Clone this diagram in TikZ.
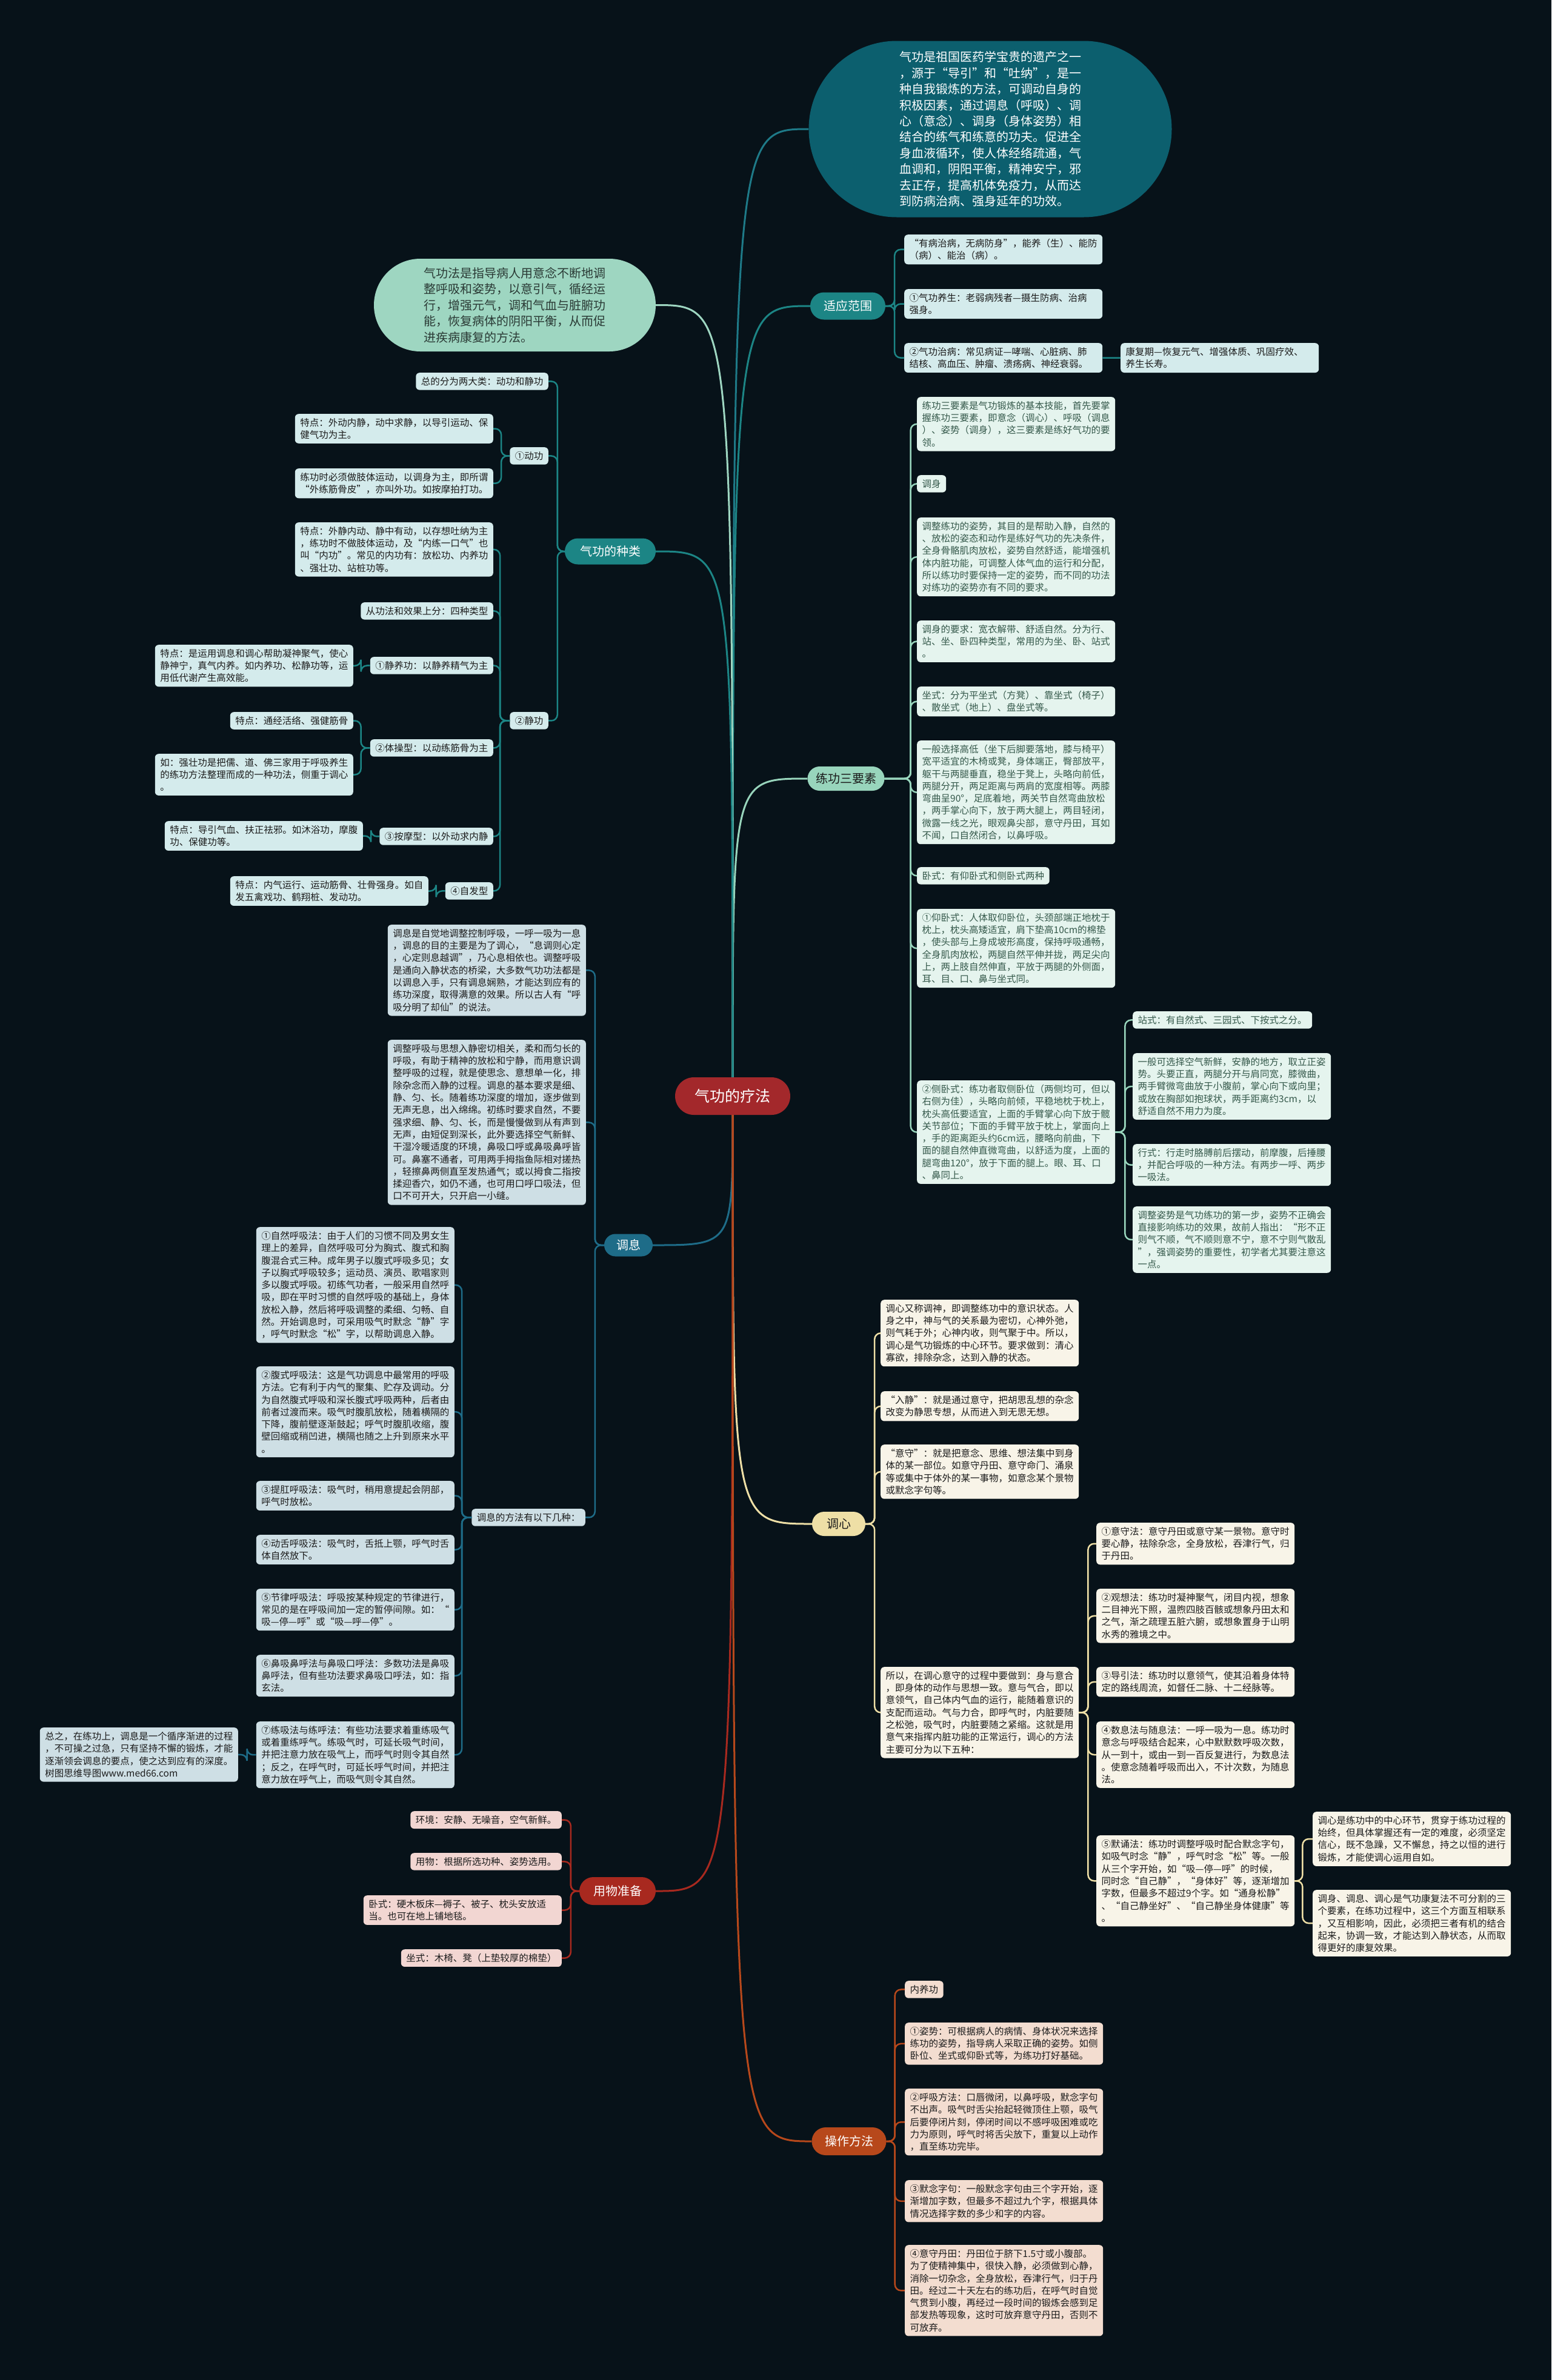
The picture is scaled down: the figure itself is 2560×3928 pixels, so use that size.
\documentclass[tikz,border=0pt]{standalone}
\usepackage{fontspec}
\newfontfamily\cjk{Noto Sans CJK SC}
\usetikzlibrary{shapes.misc}
\definecolor{bg}{HTML}{071219}
\definecolor{ctrc}{HTML}{A3282B}
\definecolor{ellTR}{HTML}{0C5F6E}
\definecolor{lnTR}{HTML}{1E7A88}
\definecolor{ellTL}{HTML}{9ED6C1}
\definecolor{cTeal}{HTML}{1C8585}
\definecolor{cyanfill}{HTML}{D4EBEC}
\definecolor{cMint}{HTML}{98D5BC}
\definecolor{mintfill}{HTML}{E5F4EE}
\definecolor{minttext}{HTML}{34584A}
\definecolor{cBlue}{HTML}{1E6C88}
\definecolor{bluefill}{HTML}{CEDFE5}
\definecolor{cGold}{HTML}{EEDFA6}
\definecolor{creamfill}{HTML}{F8F4E8}
\definecolor{cRed}{HTML}{A8291F}
\definecolor{pinkfill}{HTML}{F2D6D2}
\definecolor{cOrange}{HTML}{B7481B}
\definecolor{peachfill}{HTML}{F3DDD0}
\definecolor{dtext}{HTML}{1B1B1B}
\definecolor{elltltext}{HTML}{2A3A35}
\tikzset{
  bx/.style={font=\cjk\fontsize{15.5}{20.3}\selectfont, inner xsep=8.5pt, inner ysep=7pt, rounded corners=6pt, align=left},
  bxw/.style={bx, text width=310pt},
  cy/.style={fill=cyanfill, text=dtext},
  mt/.style={fill=mintfill, text=minttext},
  bl/.style={fill=bluefill, text=dtext},
  cr/.style={fill=creamfill, text=dtext},
  pk/.style={fill=pinkfill, text=dtext},
  pc/.style={fill=peachfill, text=dtext},
  branch/.style={rounded rectangle, inner sep=0pt, font=\cjk\fontsize{20}{24}\selectfont},
  elltext/.style={inner sep=0pt, align=left, font=\cjk\fontsize{20}{26.4}\selectfont},
  mainln/.style={draw=#1, line width=3pt},
  subln/.style={draw=#1, line width=2.5pt, rounded corners=10pt},
}
\newcommand\rconn[4]{\draw[subln=#1] (#2.east) -- ([xshift=#4pt]#2.east) |- (#3.west);}
\newcommand\lconn[4]{\draw[subln=#1] (#2.west) -- ([xshift=-#4pt]#2.west) |- (#3.east);}
\newcommand\mainup[2]{\draw[mainln=#1] (ctr.north) .. controls (ctr.north |- #2) .. (#2);}
\newcommand\maindown[2]{\draw[mainln=#1] (ctr.south) .. controls (ctr.south |- #2) .. (#2);}
\begin{document}
\begin{tikzpicture}[x=1pt,y=-1pt]
\fill[bg] (0,0) rectangle (2560,3928);
\useasboundingbox (0,0) rectangle (2560,3928);

% ---------- centre ----------
\node[branch, fill=ctrc, text=white, minimum width=190pt, minimum height=62pt, font=\cjk\fontsize{25}{30}\selectfont] (ctr) at (1209,1809) {气功的疗法};

% ---------- top right ellipse ----------
\node[rounded rectangle, fill=ellTR, minimum width=599pt, minimum height=291pt, inner sep=0pt] (eTR) at (1634,213) {};
\node[elltext, text=white] (eTRt) at (eTR.center) {气功是祖国医药学宝贵的遗产之一\\，源于“导引”和“吐纳”，是一\\种自我锻炼的方法，可调动自身的\\积极因素，通过调息（呼吸）、调\\心（意念）、调身（身体姿势）相\\结合的练气和练意的功夫。促进全\\身血液循环，使人体经络疏通，气\\血调和，阴阳平衡，精神安宁，邪\\去正存，提高机体免疫力，从而达\\到防病治病、强身延年的功效。};

% ---------- top left ellipse ----------
\node[rounded rectangle, fill=ellTL, minimum width=465pt, minimum height=153pt, inner sep=0pt] (eTL) at (849.5,503.5) {};
\node[elltext, text=elltltext] (eTLt) at (eTL.center) {气功法是指导病人用意念不断地调\\整呼吸和姿势，以意引气，循经运\\行，增强元气，调和气血与脏腑功\\能，恢复病体的阴阳平衡，从而促\\进疾病康复的方法。};

% ---------- 适应范围 ----------
\node[branch, fill=cTeal, text=white, minimum width=124pt, minimum height=45pt] (syfw) at (1399,505) {适应范围};
\node[bxw, cy, anchor=north west] (s1) at (1492,387) {“有病治病，无病防身”，能养（生）、能防\\（病）、能治（病）。};
\node[bxw, cy, anchor=north west] (s2) at (1492,477) {①气功养生：老弱病残者—摄生防病、治病\\强身。};
\node[bxw, cy, anchor=north west] (s3) at (1492,566) {②气功治病：常见病证—哮喘、心脏病、肺\\结核、高血压、肿瘤、溃疡病、神经衰弱。};
\node[bxw, cy, anchor=north west] (s4) at (1849,566) {康复期—恢复元气、增强体质、巩固疗效、\\养生长寿。};

% ---------- 气功的种类 ----------
\node[branch, fill=cTeal, text=white, minimum width=150pt, minimum height=43pt] (zl) at (1007,910) {气功的种类};
\node[bx, cy, anchor=north east] (k0) at (905,615) {总的分为两大类：动功和静功};
\node[bx, cy, anchor=north east] (k1) at (905,738) {①动功};
\node[bxw, cy, anchor=north east] (k11) at (814,683) {特点：外动内静，动中求静，以导引运动、保\\健气功为主。};
\node[bxw, cy, anchor=north east] (k12) at (814,773) {练功时必须做肢体运动，以调身为主，即所谓\\“外练筋骨皮”，亦叫外功。如按摩拍打功。};
\node[bx, cy, anchor=north east] (k2) at (905,1175) {②静功};
\node[bxw, cy, anchor=north east] (k21) at (814,862) {特点：外静内动、静中有动，以存想吐纳为主\\，练功时不做肢体运动，及“内练一口气”也\\叫“内功”。常见的内功有：放松功、内养功\\、强壮功、站桩功等。};
\node[bx, cy, anchor=north east] (k22) at (814,994) {从功法和效果上分：四种类型};
\node[bx, cy, anchor=north east] (k23) at (814,1084) {①静养功：以静养精气为主};
\node[bxw, cy, anchor=north east] (k231) at (583,1064) {特点：是运用调息和调心帮助凝神聚气，使心\\静神宁，真气内养。如内养功、松静功等，运\\用低代谢产生高效能。};
\node[bx, cy, anchor=north east] (k24) at (814,1220) {②体操型：以动练筋骨为主};
\node[bx, cy, anchor=north east] (k241) at (583,1175) {特点：通经活络、强健筋骨};
\node[bxw, cy, anchor=north east] (k242) at (583,1244) {如：强壮功是把儒、道、佛三家用于呼吸养生\\的练功方法整理而成的一种功法，侧重于调心\\。};
\node[bx, cy, anchor=north east] (k25) at (814,1366) {③按摩型：以外动求内静};
\node[bxw, cy, anchor=north east] (k251) at (599,1355) {特点：导引气血、扶正祛邪。如沐浴功，摩腹\\功、保健功等。};
\node[bx, cy, anchor=north east] (k26) at (814,1456) {④自发型};
\node[bxw, cy, anchor=north east] (k261) at (707,1446) {特点：内气运行、运动筋骨、壮骨强身。如自\\发五禽戏功、鹤翔桩、发动功。};

% ---------- 练功三要素 ----------
\node[branch, fill=cMint, text=dtext, minimum width=127pt, minimum height=40pt] (sys) at (1396,1285) {练功三要素};
\node[bxw, mt, anchor=north west] (l1) at (1513,655) {练功三要素是气功锻炼的基本技能，首先要掌\\握练功三要素，即意念（调心）、呼吸（调息\\）、姿势（调身），这三要素是练好气功的要\\领。};
\node[bx, mt, anchor=north west] (l2) at (1513,784) {调身};
\node[bxw, mt, anchor=north west] (l3) at (1513,854) {调整练功的姿势，其目的是帮助入静，自然的\\、放松的姿态和动作是练好气功的先决条件，\\全身骨骼肌肉放松，姿势自然舒适，能增强机\\体内脏功能，可调整人体气血的运行和分配，\\所以练功时要保持一定的姿势，而不同的功法\\对练功的姿势亦有不同的要求。};
\node[bxw, mt, anchor=north west] (l4) at (1513,1024) {调身的要求：宽衣解带、舒适自然。分为行、\\站、坐、卧四种类型，常用的为坐、卧、站式\\。};
\node[bxw, mt, anchor=north west] (l5) at (1513,1133) {坐式：分为平坐式（方凳）、靠坐式（椅子）\\、散坐式（地上）、盘坐式等。};
\node[bxw, mt, anchor=north west] (l6) at (1513,1222) {一般选择高低（坐下后脚要落地，膝与椅平）\\宽平适宜的木椅或凳，身体端正，臀部放平，\\躯干与两腿垂直，稳坐于凳上，头略向前低，\\两腿分开，两足距离与两肩的宽度相等。两膝\\弯曲呈90°，足底着地，两关节自然弯曲放松\\，两手掌心向下，放于两大腿上，两目轻闭，\\微露一线之光，眼观鼻尖部，意守丹田，耳如\\不闻，口自然闭合，以鼻呼吸。};
\node[bx, mt, anchor=north west] (l7) at (1513,1431) {卧式：有仰卧式和侧卧式两种};
\node[bxw, mt, anchor=north west] (l8) at (1513,1500) {①仰卧式：人体取仰卧位，头颈部端正地枕于\\枕上，枕头高矮适宜，肩下垫高10cm的棉垫\\，使头部与上身成坡形高度，保持呼吸通畅，\\全身肌肉放松，两腿自然平伸并拢，两足尖向\\上，两上肢自然伸直，平放于两腿的外侧面，\\耳、目、口、鼻与坐式同。};
\node[bxw, mt, anchor=north west] (l9) at (1513,1783) {②侧卧式：练功者取侧卧位（两侧均可，但以\\右侧为佳），头略向前倾，平稳地枕于枕上，\\枕头高低要适宜，上面的手臂掌心向下放于髋\\关节部位；下面的手臂平放于枕上，掌面向上\\，手的距离距头约6cm远，腰略向前曲，下\\面的腿自然伸直微弯曲，以舒适为度，上面的\\腿弯曲120°，放于下面的腿上。眼、耳、口\\、鼻同上。};
\node[bx, mt, anchor=north west] (l91) at (1869,1669) {站式：有自然式、三园式、下按式之分。};
\node[bxw, mt, anchor=north west] (l92) at (1869,1738) {一般可选择空气新鲜，安静的地方，取立正姿\\势。头要正直，两腿分开与肩同宽，膝微曲，\\两手臂微弯曲放于小腹前，掌心向下或向里；\\或放在胸部如抱球状，两手距离约3cm，以\\舒适自然不用力为度。};
\node[bxw, mt, anchor=north west] (l93) at (1869,1888) {行式：行走时胳膊前后摆动，前摩腹，后捶腰\\，并配合呼吸的一种方法。有两步一呼、两步\\一吸法。};
\node[bxw, mt, anchor=north west] (l94) at (1869,1991) {调整姿势是气功练功的第一步，姿势不正确会\\直接影响练功的效果，故前人指出：“形不正\\则气不顺，气不顺则意不宁，意不宁则气散乱\\”，强调姿势的重要性，初学者尤其要注意这\\一点。};

% ---------- 调息 ----------
\node[branch, fill=cBlue, text=white, minimum width=80pt, minimum height=37pt] (tx) at (1037,2055) {调息};
\node[bxw, bl, anchor=north east] (t1) at (967,1526) {调息是自觉地调整控制呼吸，一呼一吸为一息\\，调息的目的主要是为了调心，“息调则心定\\，心定则息越调”，乃心息相依也。调整呼吸\\是通向入静状态的桥梁，大多数气功功法都是\\以调息入手，只有调息娴熟，才能达到应有的\\练功深度，取得满意的效果。所以古人有“呼\\吸分明了却仙”的说法。};
\node[bxw, bl, anchor=north east] (t2) at (967,1716) {调整呼吸与思想入静密切相关，柔和而匀长的\\呼吸，有助于精神的放松和宁静，而用意识调\\整呼吸的过程，就是使思念、意想单一化，排\\除杂念而入静的过程。调息的基本要求是细、\\静、匀、长。随着练功深度的增加，逐步做到\\无声无息，出入绵绵。初练时要求自然，不要\\强求细、静、匀、长，而是慢慢做到从有声到\\无声，由短促到深长，此外要选择空气新鲜、\\干湿冷暖适度的环境，鼻吸口呼或鼻吸鼻呼皆\\可。鼻塞不通者，可用两手拇指鱼际相对搓热\\，轻擦鼻两侧直至发热通气；或以拇食二指按\\揉迎香穴，如仍不通，也可用口呼口吸法，但\\口不可开大，只开启一小缝。};
\node[bx, bl, anchor=north east] (t3) at (966,2490) {调息的方法有以下几种：};
\node[bxw, bl, anchor=north east] (t31) at (750,2025) {①自然呼吸法：由于人们的习惯不同及男女生\\理上的差异，自然呼吸可分为胸式、腹式和胸\\腹混合式三种。成年男子以腹式呼吸多见；女\\子以胸式呼吸较多；运动员、演员、歌唱家则\\多以腹式呼吸。初练气功者，一般采用自然呼\\吸，即在平时习惯的自然呼吸的基础上，身体\\放松入静，然后将呼吸调整的柔细、匀畅、自\\然。开始调息时，可采用吸气时默念“静”字\\，呼气时默念“松”字，以帮助调息入静。};
\node[bxw, bl, anchor=north east] (t32) at (750,2255) {②腹式呼吸法：这是气功调息中最常用的呼吸\\方法。它有利于内气的聚集、贮存及调动。分\\为自然腹式呼吸和深长腹式呼吸两种，后者由\\前者过渡而来。吸气时腹肌放松，随着横隔的\\下降，腹前壁逐渐鼓起；呼气时腹肌收缩，腹\\壁回缩或稍凹进，横隔也随之上升到原来水平\\。};
\node[bxw, bl, anchor=north east] (t33) at (750,2444) {③提肛呼吸法：吸气时，稍用意提起会阴部，\\呼气时放松。};
\node[bxw, bl, anchor=north east] (t34) at (750,2533) {④动舌呼吸法：吸气时，舌抵上颚，呼气时舌\\体自然放下。};
\node[bxw, bl, anchor=north east] (t35) at (750,2622) {⑤节律呼吸法：呼吸按某种规定的节律进行，\\常见的是在呼吸间加一定的暂停间隙。如：“\\吸—停—呼”或“吸—呼—停”。};
\node[bxw, bl, anchor=north east] (t36) at (750,2731) {⑥鼻吸鼻呼法与鼻吸口呼法：多数功法是鼻吸\\鼻呼法，但有些功法要求鼻吸口呼法，如：指\\玄法。};
\node[bxw, bl, anchor=north east] (t37) at (750,2841) {⑦练吸法与练呼法：有些功法要求着重练吸气\\或着重练呼气。练吸气时，可延长吸气时间，\\并把注意力放在吸气上，而呼气时则令其自然\\；反之，在呼气时，可延长呼气时间，并把注\\意力放在呼气上，而吸气则令其自然。};
\node[bxw, bl, anchor=north east] (t371) at (393,2851) {总之，在练功上，调息是一个循序渐进的过程\\，不可操之过急，只有坚持不懈的锻炼，才能\\逐渐领会调息的要点，使之达到应有的深度。\\树图思维导图www.med66.com};

% ---------- 调心 ----------
\node[branch, fill=cGold, text=dtext, minimum width=88pt, minimum height=40pt] (xx) at (1384,2515) {调心};
\node[bxw, cr, anchor=north west] (x1) at (1453,2145) {调心又称调神，即调整练功中的意识状态。人\\身之中，神与气的关系最为密切，心神外弛，\\则气耗于外；心神内收，则气聚于中。所以，\\调心是气功锻炼的中心环节。要求做到：清心\\寡欲，排除杂念，达到入静的状态。};
\node[bxw, cr, anchor=north west] (x2) at (1453,2296) {“入静”：就是通过意守，把胡思乱想的杂念\\改变为静思专想，从而进入到无思无想。};
\node[bxw, cr, anchor=north west] (x3) at (1453,2384) {“意守”：就是把意念、思维、想法集中到身\\体的某一部位。如意守丹田、意守命门、涌泉\\等或集中于体外的某一事物，如意念某个景物\\或默念字句等。};
\node[bxw, cr, anchor=north west] (x4) at (1453,2751) {所以，在调心意守的过程中要做到：身与意合\\，即身体的动作与思想一致。意与气合，即以\\意领气，自己体内气血的运行，能随着意识的\\支配而运动。气与力合，即呼气时，内脏要随\\之松弛，吸气时，内脏要随之紧缩。这就是用\\意气来指挥内脏功能的正常运行，调心的方法\\主要可分为以下五种：};
\node[bxw, cr, anchor=north west] (x41) at (1809,2513) {①意守法：意守丹田或意守某一景物。意守时\\要心静，祛除杂念，全身放松，吞津行气，归\\于丹田。};
\node[bxw, cr, anchor=north west] (x42) at (1809,2622) {②观想法：练功时凝神聚气，闭目内视，想象\\二目神光下照，温煦四肢百骸或想象丹田太和\\之气，渐之疏理五脏六腑，或想象置身于山明\\水秀的雅境之中。};
\node[bxw, cr, anchor=north west] (x43) at (1809,2751) {③导引法：练功时以意领气，使其沿着身体特\\定的路线周流，如督任二脉、十二经脉等。};
\node[bxw, cr, anchor=north west] (x44) at (1809,2841) {④数息法与随息法：一呼一吸为一息。练功时\\意念与呼吸结合起来，心中默默数呼吸次数，\\从一到十，或由一到一百反复进行，为数息法\\。使意念随着呼吸而出入，不计次数，为随息\\法。};
\node[bxw, cr, anchor=north west] (x45) at (1809,3029) {⑤默诵法：练功时调整呼吸时配合默念字句，\\如吸气时念“静”，呼气时念“松”等。一般\\从三个字开始，如“吸—停—呼”的时候，\\同时念“自己静”，“身体好”等，逐渐增加\\字数，但最多不超过9个字。如“通身松静”\\、“自己静坐好”、“自己静坐身体健康”等\\。};
\node[bxw, cr, anchor=north west] (x451) at (2166,2990) {调心是练功中的中心环节，贯穿于练功过程的\\始终，但具体掌握还有一定的难度，必须坚定\\信心，既不急躁，又不懈怠，持之以恒的进行\\锻炼，才能使调心运用自如。};
\node[bxw, cr, anchor=north west] (x452) at (2166,3119) {调身、调息、调心是气功康复法不可分割的三\\个要素，在练功过程中，这三个方面互相联系\\，又互相影响，因此，必须把三者有机的结合\\起来，协调一致，才能达到入静状态，从而取\\得更好的康复效果。};

% ---------- 用物准备 ----------
\node[branch, fill=cRed, text=white, minimum width=126pt, minimum height=46pt] (yw) at (1019,3121) {用物准备};
\node[bx, pk, anchor=north east] (y1) at (927,2989) {环境：安静、无噪音，空气新鲜。};
\node[bx, pk, anchor=north east] (y2) at (927,3058) {用物：根据所选功种、姿势选用。};
\node[bxw, pk, anchor=north east] (y3) at (927,3128) {卧式：硬木板床—褥子、被子、枕头安放适\\当。也可在地上铺地毯。};
\node[bx, pk, anchor=north east] (y4) at (927,3217) {坐式：木椅、凳（上垫较厚的棉垫）};

% ---------- 操作方法 ----------
\node[branch, fill=cOrange, text=white, minimum width=123pt, minimum height=46pt] (cz) at (1401,3534) {操作方法};
\node[bx, pc, anchor=north west] (c1) at (1493,3269) {内养功};
\node[bxw, pc, anchor=north west] (c2) at (1493,3338) {①姿势：可根据病人的病情、身体状况来选择\\练功的姿势，指导病人采取正确的姿势。如侧\\卧位、坐式或仰卧式等，为练功打好基础。};
\node[bxw, pc, anchor=north west] (c3) at (1493,3447) {②呼吸方法：口唇微闭，以鼻呼吸，默念字句\\不出声。吸气时舌尖抬起轻微顶住上颚，吸气\\后要停闭片刻，停闭时间以不感呼吸困难或吃\\力为原则，呼气时将舌尖放下，重复以上动作\\，直至练功完毕。};
\node[bxw, pc, anchor=north west] (c4) at (1493,3598) {③默念字句：一般默念字句由三个字开始，逐\\渐增加字数，但最多不超过九个字，根据具体\\情况选择字数的多少和字的内容。};
\node[bxw, pc, anchor=north west] (c5) at (1493,3705) {④意守丹田：丹田位于脐下1.5寸或小腹部。\\为了使精神集中，很快入静，必须做到心静，\\消除一切杂念，全身放松，吞津行气，归于丹\\田。经过二十天左右的练功后，在呼气时自觉\\气贯到小腹，再经过一段时间的锻炼会感到足\\部发热等现象，这时可放弃意守丹田，否则不\\可放弃。};

% ---------- main connectors ----------
\mainup{lnTR}{eTR.west}
\mainup{cTeal}{syfw.west}
\mainup{cMint}{sys.west}
\mainup{ellTL}{eTL.east}
\mainup{cTeal}{zl.east}
\maindown{cBlue}{tx.east}
\maindown{cGold}{xx.west}
\maindown{cRed}{yw.east}
\maindown{cOrange}{cz.west}

% ---------- sub connectors ----------
\rconn{cTeal}{syfw}{s1}{15}
\rconn{cTeal}{syfw}{s2}{15}
\rconn{cTeal}{syfw}{s3}{15}
\draw[subln=cTeal] (s3.east) -- (s4.west);

\lconn{cTeal}{zl}{k0}{12}
\lconn{cTeal}{zl}{k1}{12}
\lconn{cTeal}{zl}{k2}{12}
\lconn{cTeal}{k1}{k11}{14}
\lconn{cTeal}{k1}{k12}{14}
\lconn{cTeal}{k2}{k21}{16}
\lconn{cTeal}{k2}{k22}{16}
\lconn{cTeal}{k2}{k23}{16}
\lconn{cTeal}{k2}{k24}{16}
\lconn{cTeal}{k2}{k25}{16}
\lconn{cTeal}{k2}{k26}{16}
\lconn{cTeal}{k23}{k231}{15}
\lconn{cTeal}{k24}{k241}{15}
\lconn{cTeal}{k24}{k242}{15}
\lconn{cTeal}{k25}{k251}{14}
\lconn{cTeal}{k26}{k261}{15}

\rconn{cMint}{sys}{l1}{43}
\rconn{cMint}{sys}{l2}{43}
\rconn{cMint}{sys}{l3}{43}
\rconn{cMint}{sys}{l4}{43}
\rconn{cMint}{sys}{l5}{43}
\rconn{cMint}{sys}{l6}{43}
\rconn{cMint}{sys}{l7}{43}
\rconn{cMint}{sys}{l8}{43}
\rconn{cMint}{sys}{l9}{43}
\rconn{cMint}{l9}{l91}{16}
\rconn{cMint}{l9}{l92}{16}
\rconn{cMint}{l9}{l93}{16}
\rconn{cMint}{l9}{l94}{16}

\lconn{cBlue}{tx}{t1}{15}
\lconn{cBlue}{tx}{t2}{15}
\lconn{cBlue}{tx}{t3}{15}
\lconn{cBlue}{t3}{t31}{16}
\lconn{cBlue}{t3}{t32}{16}
\lconn{cBlue}{t3}{t33}{16}
\lconn{cBlue}{t3}{t34}{16}
\lconn{cBlue}{t3}{t35}{16}
\lconn{cBlue}{t3}{t36}{16}
\lconn{cBlue}{t3}{t37}{16}
\lconn{cBlue}{t37}{t371}{15}

\rconn{cGold}{xx}{x1}{15}
\rconn{cGold}{xx}{x2}{15}
\rconn{cGold}{xx}{x3}{15}
\rconn{cGold}{xx}{x4}{15}
\rconn{cGold}{x4}{x41}{15}
\rconn{cGold}{x4}{x42}{15}
\rconn{cGold}{x4}{x43}{15}
\rconn{cGold}{x4}{x44}{15}
\rconn{cGold}{x4}{x45}{15}
\rconn{cGold}{x45}{x451}{13}
\rconn{cGold}{x45}{x452}{13}

\lconn{cRed}{yw}{y1}{14}
\lconn{cRed}{yw}{y2}{14}
\lconn{cRed}{yw}{y3}{14}
\lconn{cRed}{yw}{y4}{14}

\rconn{cOrange}{cz}{c1}{14}
\rconn{cOrange}{cz}{c2}{14}
\rconn{cOrange}{cz}{c3}{14}
\rconn{cOrange}{cz}{c4}{14}
\rconn{cOrange}{cz}{c5}{14}
\end{tikzpicture}
\end{document}
